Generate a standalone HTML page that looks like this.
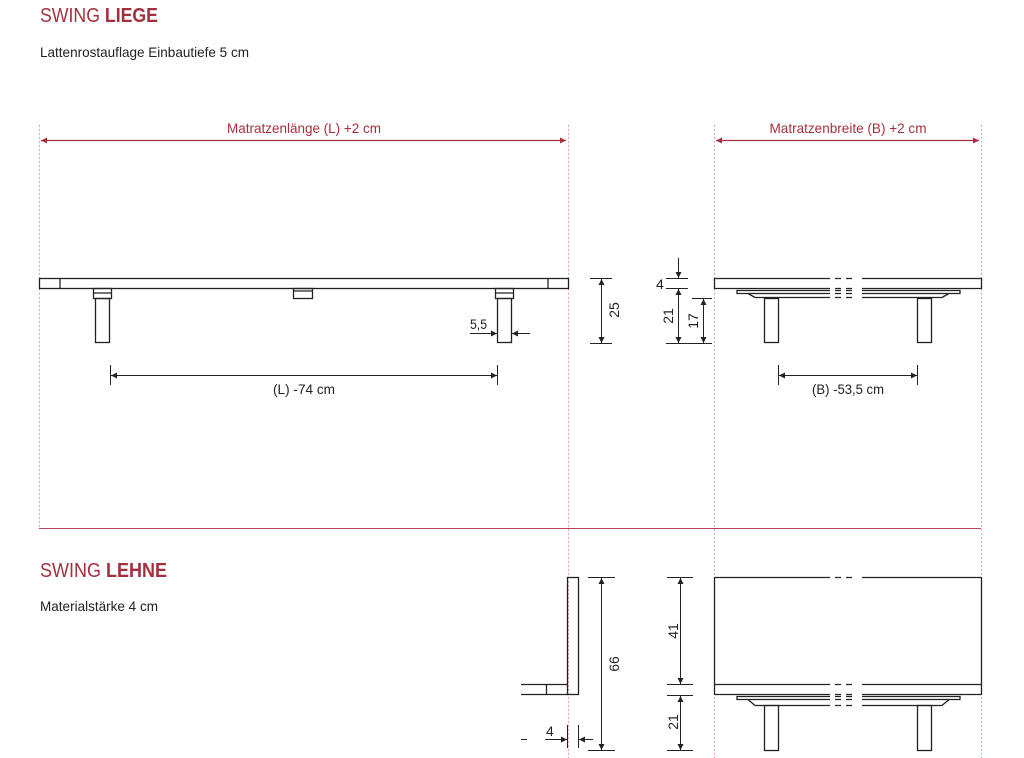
<!DOCTYPE html>
<html><head><meta charset="utf-8"><style>
html,body{margin:0;padding:0;background:#fff;}
svg{display:block;font-family:"Liberation Sans",sans-serif;}
</style></head><body>
<svg width="1024" height="758" viewBox="0 0 1024 758" xmlns="http://www.w3.org/2000/svg">
<defs>
<marker id="a" viewBox="0 0 10 10" refX="10" refY="5" markerWidth="8" markerHeight="6" orient="auto-start-reverse" markerUnits="userSpaceOnUse"><path d="M0,0L10,5L0,10z" fill="#222"/></marker>
<marker id="r" viewBox="0 0 10 10" refX="10" refY="5" markerWidth="8" markerHeight="6" orient="auto-start-reverse" markerUnits="userSpaceOnUse"><path d="M0,0L10,5L0,10z" fill="#a3303f"/></marker>
</defs>
<!-- headings -->
<text x="40" y="22" font-size="20" fill="#a3303f" textLength="118" lengthAdjust="spacingAndGlyphs">SWING <tspan font-weight="bold">LIEGE</tspan></text>
<text x="40" y="57" font-size="14" fill="#222" textLength="209" lengthAdjust="spacingAndGlyphs">Lattenrostauflage Einbautiefe 5 cm</text>
<text x="40" y="577" font-size="20" fill="#a3303f" textLength="127" lengthAdjust="spacingAndGlyphs">SWING <tspan font-weight="bold">LEHNE</tspan></text>
<text x="40" y="611" font-size="14" fill="#222" textLength="118" lengthAdjust="spacingAndGlyphs">Materialstärke 4 cm</text>

<!-- red guides -->
<g stroke="#d98a95" stroke-width="1" stroke-dasharray="1.5,2.5" fill="none">
<line x1="39.5" y1="125" x2="39.5" y2="528"/>
<line x1="568.5" y1="125" x2="568.5" y2="758"/>
<line x1="714.5" y1="125" x2="714.5" y2="758"/>
<line x1="981.5" y1="125" x2="981.5" y2="758"/>
</g>
<line x1="39" y1="528.5" x2="981" y2="528.5" stroke="#b5485a" stroke-width="1"/>
<line x1="41" y1="140.5" x2="566" y2="140.5" stroke="#a3303f" stroke-width="1.2" marker-start="url(#r)" marker-end="url(#r)"/>
<line x1="716" y1="140.5" x2="979" y2="140.5" stroke="#a3303f" stroke-width="1.2" marker-start="url(#r)" marker-end="url(#r)"/>
<g font-size="14" fill="#a3303f" text-anchor="middle">
<text x="304" y="133" textLength="154" lengthAdjust="spacingAndGlyphs">Matratzenlänge (L) +2 cm</text>
<text x="848" y="133" textLength="157" lengthAdjust="spacingAndGlyphs">Matratzenbreite (B) +2 cm</text>
</g>

<g stroke="#222" stroke-width="1.3" fill="none">
<!-- side view bed -->
<rect x="39.5" y="278.5" width="529" height="10"/>
<line x1="60" y1="278.5" x2="60" y2="288.5"/>
<line x1="548" y1="278.5" x2="548" y2="288.5"/>
<rect x="93.5" y="288.5" width="18" height="10"/><line x1="93.5" y1="293" x2="111.5" y2="293"/>
<rect x="95.5" y="298.5" width="14" height="44"/>
<rect x="293.5" y="288.5" width="19" height="10"/><line x1="293.5" y1="291" x2="312.5" y2="291"/>
<rect x="495.5" y="288.5" width="18" height="10"/><line x1="495.5" y1="293" x2="513.5" y2="293"/>
<rect x="497.5" y="298.5" width="14" height="44"/>
</g>
<g stroke="#222" stroke-width="1" fill="none">
<line x1="470" y1="333.5" x2="497" y2="333.5" marker-end="url(#a)"/>
<line x1="530" y1="333.5" x2="512" y2="333.5" marker-end="url(#a)"/>
<line x1="110.5" y1="365" x2="110.5" y2="385"/><line x1="497.5" y1="365" x2="497.5" y2="385"/>
<line x1="111" y1="375.5" x2="497" y2="375.5" marker-start="url(#a)" marker-end="url(#a)"/>
<line x1="590" y1="278.5" x2="612" y2="278.5"/><line x1="590" y1="343.5" x2="612" y2="343.5"/>
<line x1="601.5" y1="279" x2="601.5" y2="343" marker-start="url(#a)" marker-end="url(#a)"/>
</g>

<!-- front view bed -->
<g stroke="#222" stroke-width="1.3" fill="none">
<path d="M830,278.5H714.5V288.5H830M862,278.5H981.5V288.5H862"/>
<path d="M835,278.5h6M846,278.5h6M835,288.5h6M846,288.5h6" stroke-width="1.3"/>
<path d="M830,290.5H737v3h93M862,290.5H960v3h-98"/>
<path d="M830,297.5H755l-7,-4M862,297.5H942l7,-4"/>
<path d="M835,290.5h6M846,290.5h6M835,293.5h6M846,293.5h6M835,297.5h6M846,297.5h6"/>
<rect x="764.5" y="298.5" width="14" height="44"/>
<rect x="917.5" y="298.5" width="14" height="44"/>
</g>
<g stroke="#222" stroke-width="1" fill="none">
<line x1="778.5" y1="365" x2="778.5" y2="385"/><line x1="917.5" y1="365" x2="917.5" y2="385"/>
<line x1="779" y1="375.5" x2="917" y2="375.5" marker-start="url(#a)" marker-end="url(#a)"/>
<line x1="666" y1="278.5" x2="688" y2="278.5"/><line x1="666" y1="288.5" x2="688" y2="288.5"/>
<line x1="666" y1="343.5" x2="712" y2="343.5"/><line x1="692" y1="298.5" x2="712" y2="298.5"/>
<line x1="678.5" y1="258" x2="678.5" y2="278" marker-end="url(#a)"/>
<line x1="678.5" y1="289" x2="678.5" y2="343" marker-start="url(#a)" marker-end="url(#a)"/>
<line x1="703.5" y1="299" x2="703.5" y2="343" marker-start="url(#a)" marker-end="url(#a)"/>
</g>

<!-- lehne side -->
<g stroke="#222" stroke-width="1.3" fill="none">
<rect x="567.5" y="577.5" width="11" height="117"/>
<path d="M521,684.5H567.5M521,694.5H567.5M546.5,684.5V694.5"/>
</g>
<g stroke="#222" stroke-width="1" fill="none">
<line x1="588" y1="577.5" x2="615" y2="577.5"/><line x1="588" y1="750.5" x2="615" y2="750.5"/>
<line x1="601.5" y1="578" x2="601.5" y2="750" marker-start="url(#a)" marker-end="url(#a)"/>
<line x1="567.5" y1="725" x2="567.5" y2="748"/><line x1="578.5" y1="725" x2="578.5" y2="748"/>
<line x1="545" y1="739.5" x2="567" y2="739.5" marker-end="url(#a)"/>
<line x1="593" y1="739.5" x2="579" y2="739.5" marker-end="url(#a)"/>
<line x1="521" y1="739.5" x2="527" y2="739.5"/>
</g>

<!-- lehne front -->
<g stroke="#222" stroke-width="1.3" fill="none">
<path d="M830,577.5H714.5V694.5H830M862,577.5H981.5V694.5H862M714.5,684.5H830M862,684.5H981.5"/>
<path d="M835,577.5h6M846,577.5h6M835,684.5h6M846,684.5h6M835,694.5h6M846,694.5h6"/>
<path d="M830,696.5H737v3h93M862,696.5H960v3h-98"/>
<path d="M830,705.5H755l-7,-6M862,705.5H942l7,-6"/>
<path d="M835,696.5h6M846,696.5h6M835,699.5h6M846,699.5h6M835,705.5h6M846,705.5h6"/>
<rect x="764.5" y="705.5" width="14" height="45"/>
<rect x="917.5" y="705.5" width="14" height="45"/>
</g>
<g stroke="#222" stroke-width="1" fill="none">
<line x1="667" y1="577.5" x2="693" y2="577.5"/><line x1="667" y1="684.5" x2="693" y2="684.5"/>
<line x1="667" y1="695.5" x2="693" y2="695.5"/><line x1="667" y1="750.5" x2="693" y2="750.5"/>
<line x1="680.5" y1="578" x2="680.5" y2="684" marker-start="url(#a)" marker-end="url(#a)"/>
<line x1="680.5" y1="696" x2="680.5" y2="750" marker-start="url(#a)" marker-end="url(#a)"/>
</g>

<!-- dimension labels -->
<g font-size="14" fill="#222">
<text x="304" y="394" text-anchor="middle" textLength="62" lengthAdjust="spacingAndGlyphs">(L) -74 cm</text>
<text x="848" y="394" text-anchor="middle" textLength="72" lengthAdjust="spacingAndGlyphs">(B) -53,5 cm</text>
<text x="470" y="329" textLength="17" lengthAdjust="spacingAndGlyphs">5,5</text>
<text x="656" y="289">4</text>
<text x="546" y="736">4</text>
<text transform="translate(619,310) rotate(-90)" text-anchor="middle">25</text>
<text transform="translate(673,316) rotate(-90)" text-anchor="middle">21</text>
<text transform="translate(698,321) rotate(-90)" text-anchor="middle">17</text>
<text transform="translate(619,664) rotate(-90)" text-anchor="middle">66</text>
<text transform="translate(678,631) rotate(-90)" text-anchor="middle">41</text>
<text transform="translate(678,722) rotate(-90)" text-anchor="middle">21</text>
</g>
</svg>
</body></html>
